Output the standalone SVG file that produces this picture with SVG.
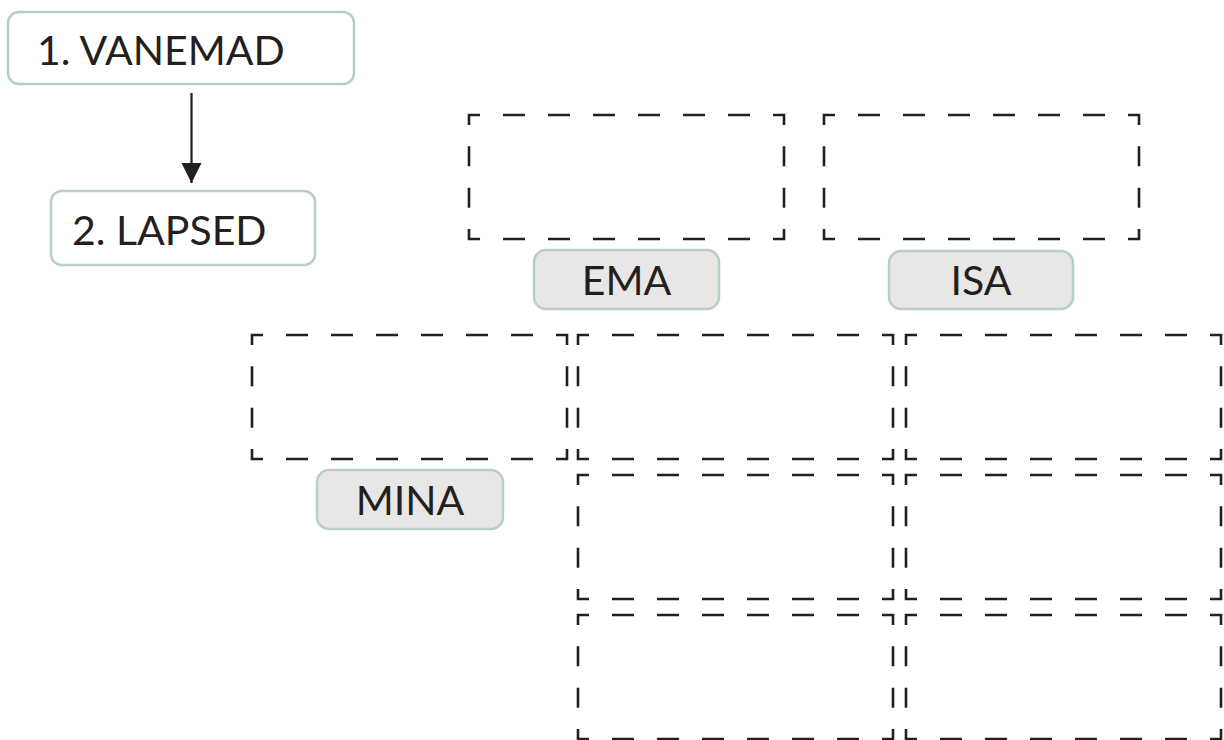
<svg xmlns="http://www.w3.org/2000/svg" width="1224" height="740" viewBox="0 0 1224 740">
<defs>
<style>
.step{fill:#ffffff;stroke:#b7cfc2;stroke-width:2.5}
.lab{fill:#e8e7e6;stroke:#b7cfc2;stroke-width:2.5}
.txt{font-family:Lato,"Open Sans","Liberation Sans",sans-serif;font-size:41px;fill:#231f20}
.dash{fill:none;stroke:#231f20;stroke-width:2.6;stroke-linejoin:miter;
stroke-dasharray:11 23 22 23 22 23 22 23 22 23 22 23 22 23 21 21.33 20 21.33 20 21.33 21 23 22 23 22 23 22 23 22 23 22 23 22 23 21 21.33 20 21.33 20 21.33 10 0}
</style>
<marker id="arr" viewBox="0 0 20 21" refX="20" refY="10" markerWidth="20" markerHeight="21" markerUnits="userSpaceOnUse" orient="auto">
<path d="M0,0 L20,10 L0,20 Z" fill="#231f20"/>
</marker>
</defs>
<g id="connectors">
<line x1="191.5" y1="93" x2="191.5" y2="183" stroke="#231f20" stroke-width="2.2" marker-end="url(#arr)"/>
</g>
<g id="vanemad">
<rect class="step" x="8" y="12" width="346" height="72" rx="11"/>
<text class="txt" x="37" y="65">1. VANEMAD</text>
</g>
<g id="lapsed">
<rect class="step" x="51" y="191" width="264" height="74" rx="11"/>
<text class="txt" x="72" y="245">2. LAPSED</text>
</g>
<g id="ema-area"><rect class="dash" x="469" y="115" width="315" height="124"/></g>
<g id="isa-area"><rect class="dash" x="824" y="115" width="315" height="124"/></g>
<g id="mina-area"><rect class="dash" x="252" y="335" width="315" height="124"/></g>
<g id="grid-1-1"><rect class="dash" x="578" y="335" width="315" height="124"/></g>
<g id="grid-1-2"><rect class="dash" x="906" y="335" width="315" height="124"/></g>
<g id="grid-2-1"><rect class="dash" x="578" y="475" width="315" height="124"/></g>
<g id="grid-2-2"><rect class="dash" x="906" y="475" width="315" height="124"/></g>
<g id="grid-3-1"><rect class="dash" x="578" y="615" width="315" height="124"/></g>
<g id="grid-3-2"><rect class="dash" x="906" y="615" width="315" height="124"/></g>
<g id="ema">
<rect class="lab" x="534" y="250" width="185" height="59" rx="12"/>
<text class="txt" x="626.5" y="295" text-anchor="middle">EMA</text>
</g>
<g id="isa">
<rect class="lab" x="889" y="251" width="184" height="58" rx="12"/>
<text class="txt" x="981" y="295" text-anchor="middle">ISA</text>
</g>
<g id="mina">
<rect class="lab" x="317" y="470" width="186" height="59" rx="12"/>
<text class="txt" x="410" y="515" text-anchor="middle">MINA</text>
</g>
</svg>
